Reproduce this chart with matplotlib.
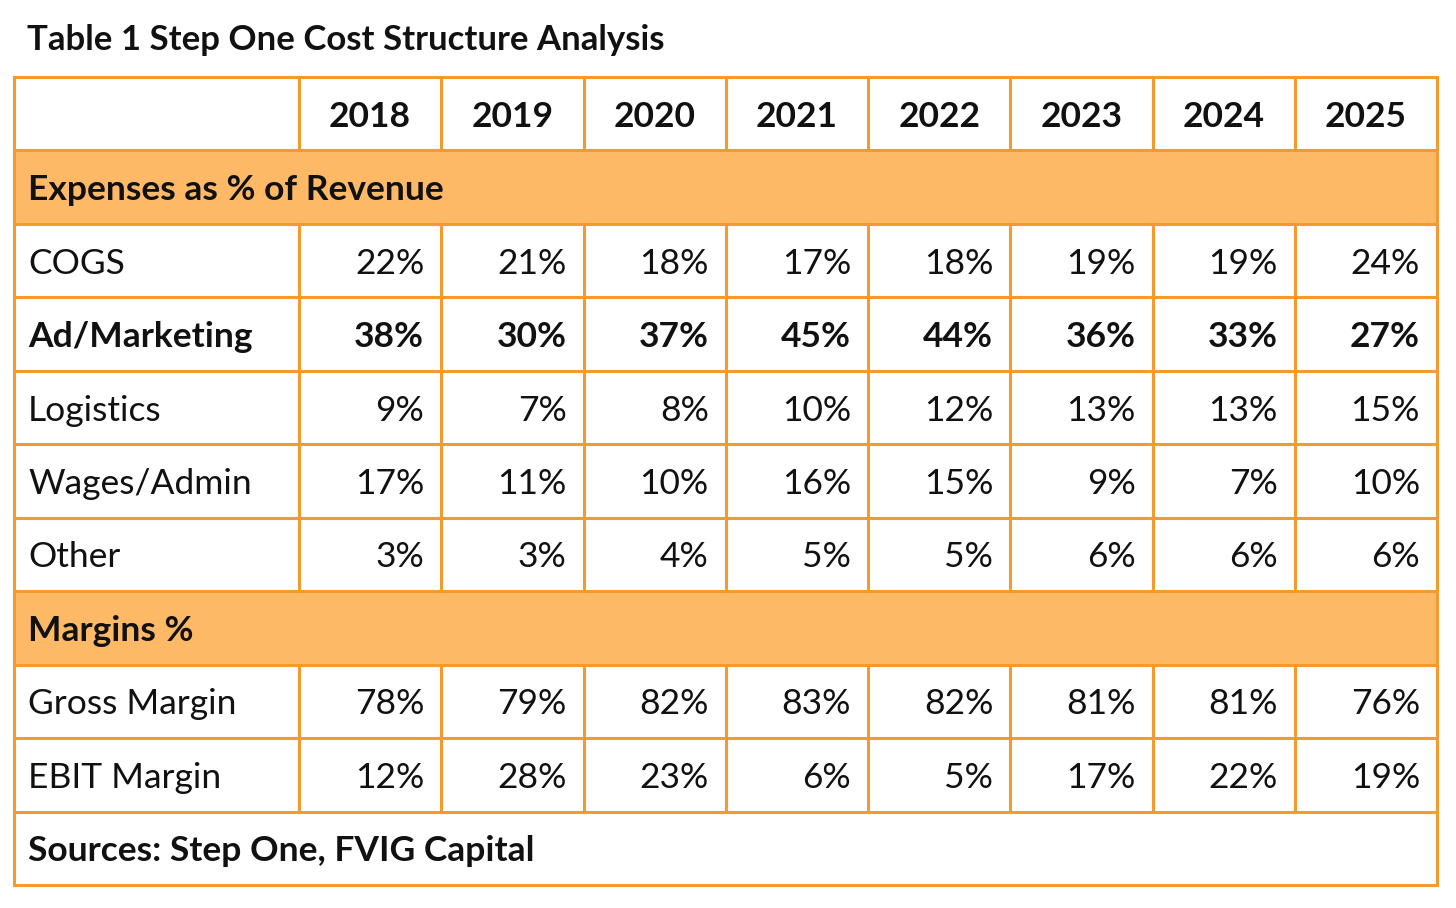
import matplotlib.pyplot as plt
from matplotlib.patches import Rectangle

plt.rcParams["font.family"] = ["Lato", "DejaVu Sans"]

title = "Table 1 Step One Cost Structure Analysis"
years = ["2018", "2019", "2020", "2021", "2022", "2023", "2024", "2025"]

section_expenses = "Expenses as % of Revenue"
expense_labels = ["COGS", "Ad/Marketing", "Logistics", "Wages/Admin", "Other"]
cogs = [22, 21, 18, 17, 18, 19, 19, 24]
ad_marketing = [38, 30, 37, 45, 44, 36, 33, 27]
logistics = [9, 7, 8, 10, 12, 13, 13, 15]
wages_admin = [17, 11, 10, 16, 15, 9, 7, 10]
other = [3, 3, 4, 5, 5, 6, 6, 6]

section_margins = "Margins %"
margin_labels = ["Gross Margin", "EBIT Margin"]
gross_margin = [78, 79, 82, 83, 82, 81, 81, 76]
ebit_margin = [12, 28, 23, 6, 5, 17, 22, 19]

source = "Sources: Step One, FVIG Capital"

BORDER = "#F59A2C"
FILL = "#FDB966"
TEXT = "#111111"

# rows: (kind, label, values, bold)
rows = [("header", "", years, True),
        ("section", section_expenses, None, True)]
for lab, vals in zip(expense_labels, [cogs, ad_marketing, logistics, wages_admin, other]):
    rows.append(("data", lab, vals, lab == "Ad/Marketing"))
rows.append(("section", section_margins, None, True))
for lab, vals in zip(margin_labels, [gross_margin, ebit_margin]):
    rows.append(("data", lab, vals, False))
rows.append(("footer", source, None, True))

fig = plt.figure(figsize=(14.56, 9.08), dpi=100)
ax = fig.add_axes([0, 0, 1, 1])
ax.set_xlim(0, 1456)
ax.set_ylim(908, 0)
ax.axis("off")

left, right = 14, 1437
top, bottom = 77, 885
first_col = 285
n_cols = len(years)
col_w = (right - left - first_col) / n_cols
row_h = (bottom - top) / len(rows)
xs = [left, left + first_col] + [left + first_col + col_w * (i + 1) for i in range(n_cols)]
fs = 25.5
lw = 2.2

ax.text(27, 40, title, fontsize=25, fontweight="bold", color=TEXT, va="center", ha="left")

for r, (kind, label, vals, bold) in enumerate(rows):
    y0 = top + r * row_h
    yc = y0 + row_h / 2
    weight = "bold" if bold else "normal"
    if kind in ("section", "footer"):
        ax.add_patch(Rectangle((left, y0), right - left, row_h,
                               facecolor=FILL if kind == "section" else "white",
                               edgecolor="none", zorder=1))
        ax.text(left + 14, yc, label, fontsize=fs, fontweight="bold", color=TEXT,
                ha="left", va="center_baseline", zorder=3)
        continue
    ax.text(left + 14, yc, label, fontsize=fs, fontweight=weight, color=TEXT,
            ha="left", va="center_baseline", zorder=3)
    for i, v in enumerate(vals):
        if kind == "header":
            ax.text((xs[i + 1] + xs[i + 2]) / 2, yc, v, fontsize=fs, fontweight="bold",
                    color=TEXT, ha="center", va="center_baseline", zorder=3)
        else:
            ax.text(xs[i + 2] - 17, yc, f"{v}%", fontsize=fs, fontweight=weight,
                    color=TEXT, ha="right", va="center_baseline", zorder=3)
    # vertical cell borders
    for x in xs[1:-1]:
        ax.plot([x, x], [y0, y0 + row_h], color=BORDER, lw=lw, zorder=2)

# horizontal borders
for r in range(len(rows) + 1):
    y = top + r * row_h
    ax.plot([left, right], [y, y], color=BORDER, lw=lw, zorder=2, solid_capstyle="projecting")
ax.plot([left, left], [top, bottom], color=BORDER, lw=lw, zorder=2)
ax.plot([right, right], [top, bottom], color=BORDER, lw=lw, zorder=2)

fig.savefig("out.png", dpi=100, facecolor="white")
